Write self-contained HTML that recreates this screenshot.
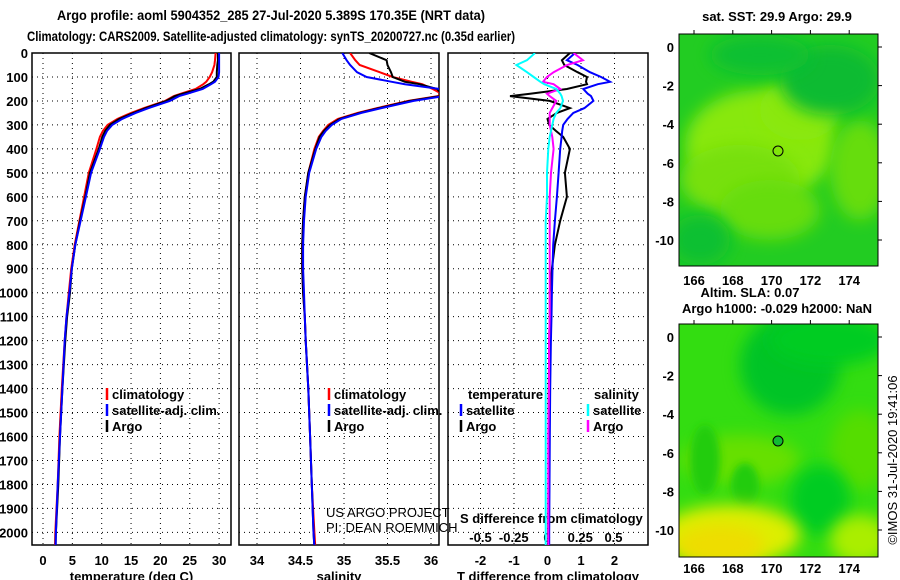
<!DOCTYPE html>
<html><head><meta charset="utf-8">
<style>
html,body{margin:0;padding:0;background:#fff;}
svg{display:block;font-family:"Liberation Sans",Arial,sans-serif;}
.b{font-weight:bold;font-size:13px;fill:#000;}
.t{font-weight:bold;font-size:14px;fill:#000;}
.g{stroke:#000;stroke-width:1;stroke-dasharray:1,4;}
</style></head>
<body>
<svg id="c" width="900" height="580" viewBox="0 0 900 580" xmlns="http://www.w3.org/2000/svg">
<defs>
<clipPath id="cp1"><rect x="32" y="53" width="199" height="492"/></clipPath>
<clipPath id="cp2"><rect x="239" y="53" width="200" height="492"/></clipPath>
<clipPath id="cp3"><rect x="448" y="53" width="200" height="492"/></clipPath>
<clipPath id="m1"><rect x="679" y="34" width="199" height="232"/></clipPath>
<clipPath id="m2"><rect x="679" y="324" width="199" height="233"/></clipPath>
<filter id="bl" x="-50%" y="-50%" width="200%" height="200%"><feGaussianBlur stdDeviation="8"/></filter>
<filter id="bl2" x="-50%" y="-50%" width="200%" height="200%"><feGaussianBlur stdDeviation="4"/></filter>
</defs>
<text class="t" x="57" y="20" textLength="428" lengthAdjust="spacingAndGlyphs">Argo profile: aoml 5904352_285 27-Jul-2020 5.389S 170.35E (NRT data)</text>
<text class="t" x="27" y="41" textLength="488" lengthAdjust="spacingAndGlyphs">Climatology: CARS2009. Satellite-adjusted climatology: synTS_20200727.nc (0.35d earlier)</text>
<g id="panels"></g>
<g id="maps">
 <text class="b" x="777" y="21" text-anchor="middle">sat. SST: 29.9 Argo: 29.9</text>
 <g clip-path="url(#m1)">
  <rect x="679" y="34" width="199" height="232" fill="#22cc22"/>
  <ellipse cx="760" cy="145" rx="75" ry="55" fill="#88e810" filter="url(#bl)"/>
  <ellipse cx="800" cy="110" rx="40" ry="30" fill="#8ae810" filter="url(#bl)"/>
  <ellipse cx="740" cy="180" rx="60" ry="35" fill="#77e010" filter="url(#bl)"/>
  <ellipse cx="770" cy="210" rx="50" ry="30" fill="#66dd10" filter="url(#bl)"/>
  <ellipse cx="860" cy="170" rx="30" ry="50" fill="#66dd10" filter="url(#bl)"/>
  <ellipse cx="830" cy="80" rx="50" ry="35" fill="#11bb33" filter="url(#bl)"/>
  <ellipse cx="760" cy="55" rx="50" ry="20" fill="#11c030" filter="url(#bl)"/>
  <ellipse cx="700" cy="240" rx="30" ry="25" fill="#11c030" filter="url(#bl)"/>
 </g>
 <rect x="679" y="34" width="199" height="232" fill="none" stroke="#000"/>
 <circle cx="778" cy="151" r="5" fill="none" stroke="#000"/>
 <text class="b" x="750" y="297" text-anchor="middle">Altim. SLA: 0.07</text>
 <text class="b" x="777" y="313" text-anchor="middle">Argo h1000: -0.029 h2000: NaN</text>
 <g clip-path="url(#m2)">
  <rect x="679" y="324" width="199" height="233" fill="#33dd11"/>
  <ellipse cx="790" cy="365" rx="50" ry="50" fill="#00c428" filter="url(#bl)"/>
  <ellipse cx="830" cy="340" rx="60" ry="25" fill="#00cc22" filter="url(#bl)"/>
  <ellipse cx="740" cy="460" rx="60" ry="25" fill="#66e000" filter="url(#bl)"/>
  <ellipse cx="860" cy="450" rx="30" ry="40" fill="#55dd00" filter="url(#bl)"/>
  <ellipse cx="705" cy="460" rx="15" ry="35" fill="#22cc11" filter="url(#bl2)"/>
  <ellipse cx="745" cy="485" rx="14" ry="22" fill="#22cc11" filter="url(#bl2)"/>
  <ellipse cx="820" cy="500" rx="30" ry="35" fill="#00cc22" filter="url(#bl)"/>
  <ellipse cx="730" cy="535" rx="70" ry="30" fill="#ddee00" filter="url(#bl)"/>
  <ellipse cx="720" cy="545" rx="45" ry="20" fill="#eedd00" filter="url(#bl)"/>
  <ellipse cx="860" cy="540" rx="30" ry="25" fill="#aaee00" filter="url(#bl)"/>
 </g>
 <rect x="679" y="324" width="199" height="233" fill="none" stroke="#000"/>
 <circle cx="778" cy="441" r="5" fill="#11bb33" stroke="#000"/>
 <text x="897" y="460" font-size="13" text-anchor="middle" transform="rotate(-90 897 460)">©IMOS 31-Jul-2020 19:41:06</text>
</g>
<g id="mapaxes"></g>
</svg>
<script>
// ---- data ----
const depthTicks=[0,100,200,300,400,500,600,700,800,900,1000,1100,1200,1300,1400,1500,1600,1700,1800,1900,2000];
const tempTicks=[0,5,10,15,20,25,30];
const salTicks=[34,34.5,35,35.5,36];
const salTickLabels=["34","34.5","35","35.5","36"];
const tdiffTicks=[-2,-1,0,1,2];
const sdiffTicks=[-0.5,-0.25,0,0.25,0.5];
const sdiffTickLabels=["-0.5","-0.25","0","0.25","0.5"];
const depths=[0,30,50,80,100,120,130,150,170,180,200,230,250,275,300,325,350,400,500,600,700,800,900,1000,1100,1200,1400,1600,1800,2000,2060];
const tArgo=[29.8,29.8,29.7,29.6,29.6,29.0,28.3,26.7,23.8,22.5,21,17.5,15.4,13.0,11.4,10.6,10.1,9.5,8.0,7.2,6.3,5.5,4.9,4.6,4.1,3.8,3.3,2.9,2.6,2.2,2.15];
const tClim=[29.4,29.3,29.2,28.8,28.4,27.8,27.3,26.0,23.5,22.3,20.8,17.2,15.0,12.7,11.0,10.2,9.7,9.1,7.8,7.0,6.2,5.4,4.8,4.4,4.0,3.7,3.2,2.8,2.5,2.1,2.05];
const tSat=[30.0,30.0,30.0,30.0,29.9,29.3,28.6,27.2,24.6,23.2,21.6,18.0,15.8,13.5,11.8,10.9,10.4,9.7,8.2,7.3,6.4,5.5,4.9,4.5,4.0,3.7,3.3,2.9,2.5,2.2,2.15];
const sArgo=[35.29,35.49,35.5,35.54,35.56,35.7,35.87,36.07,36.12,36.1,35.76,35.4,35.18,34.95,34.84,34.77,34.72,34.67,34.59,34.55,34.53,34.52,34.52,34.53,34.55,34.56,34.59,34.61,34.63,34.65,34.66];
const sClim=[35.07,35.13,35.18,35.41,35.56,35.78,35.9,36.02,36.12,36.08,35.74,35.38,35.16,34.93,34.82,34.76,34.71,34.66,34.59,34.55,34.53,34.52,34.52,34.53,34.55,34.56,34.59,34.61,34.63,34.66,34.67];
const sSat=[34.98,35.03,35.07,35.15,35.26,35.55,35.7,36.1,36.15,36.15,35.8,35.43,35.2,34.97,34.86,34.79,34.74,34.68,34.6,34.56,34.54,34.53,34.53,34.54,34.55,34.56,34.59,34.61,34.63,34.65,34.66];
const dT_argo=[0.67,0.43,0.5,0.9,1.18,1.15,1.18,0.58,-0.52,-1.12,0.07,0.67,0.28,0.0,0.05,0.25,0.47,0.67,0.52,0.58,0.38,0.22,0.13,0.07,0.07,0.05,0.04,0.03,0.03,0.02,0.02];
const dT_sat=[0.82,0.58,0.9,1.27,1.6,1.87,1.5,1.07,1.2,1.3,1.37,1.1,0.77,0.6,0.47,0.44,0.42,0.38,0.33,0.28,0.22,0.17,0.15,0.13,0.12,0.1,0.08,0.07,0.06,0.05,0.05];
const dS_sat=[-0.09,-0.15,-0.23,-0.15,-0.1,-0.05,-0.02,0.07,0.1,0.11,0.12,0.1,0.07,0.05,0.04,0.03,0.02,0.01,0.0,0.0,-0.01,-0.01,-0.01,-0.01,-0.01,-0.01,-0.01,-0.01,-0.01,-0.01,-0.01];
const dS_argo=[0.2,0.27,0.15,0.05,0.0,-0.03,0.05,0.1,0.0,0.02,0.07,0.04,0.02,0.02,0.02,0.03,0.04,0.05,0.03,0.02,0.02,0.02,0.02,0.02,0.02,0.015,0.015,0.01,0.01,0.01,0.01];
const lonTicks=[166,168,170,172,174];
const latTicks=[0,-2,-4,-6,-8,-10];

const NS="http://www.w3.org/2000/svg";
const Y=d=>53+d*0.2397;
const xT=v=>43+v*5.87;
const xS=v=>257+(v-34)*87;
const xDT=v=>547.5+v*33.5;
const xDS=v=>547+v*133;
const mx=lon=>694+(lon-166)*19.4;
const my=lat=>47-lat*19.3;
function mk(tag,attrs,parent){const e=document.createElementNS(NS,tag);for(const k in attrs)e.setAttribute(k,attrs[k]);parent.appendChild(e);return e;}
function txt(s,x,y,anchor,cls,parent){const e=mk('text',{x:x,y:y,'text-anchor':anchor,'class':cls},parent);e.textContent=s;return e;}
const P=document.getElementById('panels');

function panel(x0,x1,ticks,fx,labels,title,clip,name){
  const g=mk('g',{},P);
  
  
  depthTicks.forEach(d=>{ if(d>0){const l=mk('line',{x1:x0,x2:x1,y1:Y(d),y2:Y(d),'class':'g'},g);
    
    }});
  ticks.forEach((t,i)=>{const l=mk('line',{x1:fx(t),x2:fx(t),y1:53,y2:545,'class':'g'},g);
    
    
    if(labels){const e=txt(labels[i],fx(t),565,'middle','b',g);
    
    }});
  if(title){const e=txt(title,(x0+x1)/2,581,'middle','b',g);
    
    }
  const r=mk('rect',{x:x0,y:53,width:x1-x0,height:492,fill:'none',stroke:'#000','stroke-width':1.5},g);
  
  
  return g;
}
function series(vals,fx,color,clip,name,w){
  const pts=vals.map((v,i)=>fx(v).toFixed(1)+','+Y(depths[i]).toFixed(1)).join(' ');
  const p=mk('polyline',{points:pts,fill:'none',stroke:color,'stroke-width':w||2,'clip-path':'url(#'+clip+')'},P);
  
  
}
function legend(x,y,color,label,parent){
  const l=mk('line',{x1:x,x2:x,y1:y-11,y2:y+1,stroke:color,'stroke-width':2.5},parent);
  
  
  const t=txt(label,x+5,y,'start','b',parent);
  
  
}
depthTicks.forEach(d=>{const e=txt(String(d),28,Y(d)+5,'end','b',P);
  
  });

const g1=panel(32,231,tempTicks,xT,tempTicks.map(String),'temperature (deg C)','cp1','temperature-panel');
series(tClim,xT,'#ff0000','cp1','temp-climatology-line');
series(tArgo,xT,'#000000','cp1','temp-argo-line');
series(tSat,xT,'#0000ff','cp1','temp-satellite-line');
legend(107,399,'#ff0000','climatology',g1);
legend(107,415,'#0000ff','satellite-adj. clim.',g1);
legend(107,431,'#000000','Argo',g1);

const g2=panel(239,439,salTicks,xS,salTickLabels,'salinity','cp2','salinity-panel');
series(sClim,xS,'#ff0000','cp2','sal-climatology-line');
series(sArgo,xS,'#000000','cp2','sal-argo-line');
series(sSat,xS,'#0000ff','cp2','sal-satellite-line');
legend(329,399,'#ff0000','climatology',g2);
legend(329,415,'#0000ff','satellite-adj. clim.',g2);
legend(329,431,'#000000','Argo',g2);
const us=mk('text',{x:326,y:517,'font-size':13},g2);us.textContent='US ARGO PROJECT';


const pi=mk('text',{x:326,y:532,'font-size':13},g2);pi.textContent='PI: DEAN ROEMMICH';



const g3=panel(448,648,tdiffTicks,xDT,tdiffTicks.map(String),'T difference from climatology','cp3','difference-panel');
series(dT_argo,xDT,'#000000','cp3','tdiff-argo-line');
series(dT_sat,xDT,'#0000ff','cp3','tdiff-satellite-line');
series(dS_argo,xDS,'#ff00ff','cp3','sdiff-argo-line');
series(dS_sat,xDS,'#00ffff','cp3','sdiff-satellite-line');
const th=txt('temperature',468,399,'start','b',g3);


const sh=txt('salinity',594,399,'start','b',g3);


legend(461,415,'#0000ff','satellite',g3);
legend(461,431,'#000000','Argo',g3);
legend(588,415,'#00ffff','satellite',g3);
legend(588,431,'#ff00ff','Argo',g3);
const st=txt('S difference from climatology',460,523,'start','b',g3);


sdiffTicks.forEach((t,i)=>{const e=txt(sdiffTickLabels[i],xDS(t),542,'middle','b',g3);
  
  });

const MA=document.getElementById('mapaxes');
[[34,266,285],[324,557,573]].forEach(([top,bot,ly],k)=>{
  lonTicks.forEach(l=>{
    const a=mk('line',{x1:mx(l),x2:mx(l),y1:top,y2:top-4,stroke:'#000'},MA);
    
    
    const e=txt(String(l),mx(l),ly,'middle','b',MA);
    
    });
  latTicks.forEach(l=>{
    const yy=my(l)+(k?290:0);
    const a=mk('line',{x1:878,x2:882,y1:yy,y2:yy,stroke:'#000'},MA);
    
    
    const e=txt(String(l),674,yy+5,'end','b',MA);
    
    });
});
</script>
</body></html>
